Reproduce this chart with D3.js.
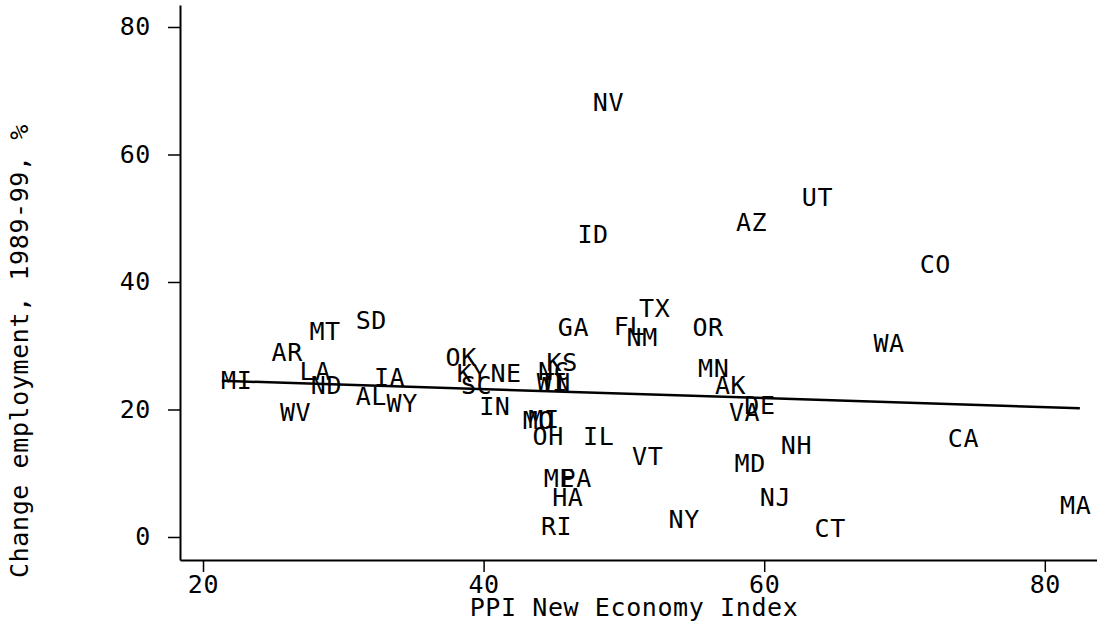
<!DOCTYPE html>
<html>
<head>
<meta charset="utf-8">
<script src="https://cdn.jsdelivr.net/npm/d3@7"></script>
<style>
    body { margin: 0; background: #fff; }
    text { font-family: "DejaVu Sans Mono", monospace; fill: #000; letter-spacing: 0.6px; }
</style>
</head>
<body>
<div id="plot"></div>
<script>
// state labels, x = PPI New Economy Index, y = change in employment 1989-99 (%)
const states = ["MI", "AR", "MT", "SD", "LA", "ND", "WV", "IA", "AL", "WY",
    "OK", "KY", "NE", "SC", "IN", "NC", "KS", "WI", "TN", "MO",
    "MI", "OH", "IL", "ME", "PA", "HA", "RI", "NV", "ID", "AZ",
    "UT", "GA", "FL", "NM", "TX", "OR", "MN", "AK", "VA", "DE",
    "VT", "MD", "NH", "NJ", "NY", "CT", "CO", "WA", "CA", "MA"];
const ppiIndex = [22.4, 26.0, 28.7, 32.0, 28.0, 28.8, 26.6, 33.3, 32.0, 34.2,
    38.4, 39.2, 41.6, 39.5, 40.8, 45.0, 45.6, 44.9, 45.1, 43.9,
    44.3, 44.6, 48.2, 45.4, 46.6, 46.0, 45.2, 48.9, 47.8, 59.1,
    63.8, 46.4, 50.4, 51.3, 52.2, 56.0, 56.4, 57.6, 58.6, 59.7,
    51.7, 59.0, 62.3, 60.8, 54.3, 64.7, 72.2, 68.9, 74.2, 82.2];
const employmentChange = [24.6, 28.9, 32.3, 33.9, 26.0, 23.7, 19.6, 25.0, 22.1, 20.9,
    28.2, 25.6, 25.6, 23.7, 20.5, 25.9, 27.4, 24.2, 24.2, 18.2,
    18.5, 15.7, 15.7, 9.1, 9.1, 6.2, 1.7, 68.2, 47.4, 49.3,
    53.3, 32.8, 33.0, 31.3, 35.8, 32.9, 26.4, 23.7, 19.5, 20.7,
    12.7, 11.5, 14.3, 6.2, 2.8, 1.4, 42.8, 30.4, 15.4, 4.9];

// fitted line end points
const fitX = [21.35, 82.5];
const fitY = [24.5, 20.2];

const xTicks = [20, 40, 60, 80];
const yTicks = [0, 20, 40, 60, 80];

class LabelScatterPlot {

    constructor() {
        this._options = {
            plotWidth: 1097,
            plotHeight: 627,
            plotMargin: { top: 5, bottom: 67, left: 180, right: 0 },
            fontSize: 25,
        };
    }

    plot(plotElementId) {
        this._plotElement = document.getElementById(plotElementId);
        return this;
    }

    initializePlot() {
        this._initializePlot();
        this._buildPlot();
        this._plotElement.append(this._svg.node());
        return this;
    }

    _w() {
        return this._options.plotWidth - this._options.plotMargin.left - this._options.plotMargin.right;
    }

    _h() {
        return this._options.plotHeight - this._options.plotMargin.top - this._options.plotMargin.bottom;
    }

    _initializePlot() {
        this._svg = d3.create("svg")
            .attr("width", this._options.plotWidth)
            .attr("height", this._options.plotHeight);

        this._content = this._svg.append("g")
            .attr("transform", "translate(" + this._options.plotMargin.left + "," + this._options.plotMargin.top + ")");
    }

    _buildPlot() {
        const fs = this._options.fontSize;

        this._xScale = d3.scaleLinear().domain([18.36, 83.72]).range([0, this._w()]);
        this._yScale = d3.scaleLinear().domain([-3.61, 83.45]).range([this._h(), 0]);

        // y axis
        const yAxis = this._content.append("g")
            .call(d3.axisLeft(this._yScale).tickValues(yTicks).tickSize(12).tickPadding(17).tickSizeOuter(0));
        yAxis.select(".domain").attr("stroke-width", 2);
        yAxis.selectAll(".tick line").attr("stroke-width", 1.5);
        yAxis.selectAll(".tick text")
            .attr("font-family", "DejaVu Sans Mono")
            .attr("font-size", fs);

        // x axis
        const xAxis = this._content.append("g")
            .attr("transform", "translate(0," + this._h() + ")")
            .call(d3.axisBottom(this._xScale).tickValues(xTicks).tickSize(12).tickPadding(3).tickSizeOuter(0));
        xAxis.select(".domain").attr("stroke-width", 2);
        xAxis.selectAll(".tick line").attr("stroke-width", 1.5);
        xAxis.selectAll(".tick text")
            .attr("font-family", "DejaVu Sans Mono")
            .attr("font-size", fs);

        // axis titles
        this._content.append("text")
            .attr("text-anchor", "middle")
            .attr("x", 634 - this._options.plotMargin.left)
            .attr("y", this._h() + 56)
            .attr("font-size", fs)
            .text("PPI New Economy Index");

        this._content.append("text")
            .attr("text-anchor", "middle")
            .attr("transform", "rotate(-90)")
            .attr("x", -(351 - this._options.plotMargin.top))
            .attr("y", -152)
            .attr("font-size", fs)
            .text("Change employment, 1989-99, %");

        // fitted line
        this._content.append("line")
            .attr("x1", this._xScale(fitX[0]))
            .attr("x2", this._xScale(fitX[1]))
            .attr("y1", this._yScale(fitY[0]))
            .attr("y2", this._yScale(fitY[1]))
            .attr("stroke", "black")
            .attr("stroke-width", 2.5);

        // state labels
        this._content.append("g")
            .selectAll("text")
            .data(states.map((s, i) => ({ s, x: ppiIndex[i], y: employmentChange[i] })))
            .join("text")
            .attr("x", d => this._xScale(d.x))
            .attr("y", d => this._yScale(d.y))
            .attr("text-anchor", "middle")
            .attr("dominant-baseline", "central")
            .attr("font-size", fs)
            .text(d => d.s);
    }
}

new LabelScatterPlot().plot("plot").initializePlot();
</script>
</body>
</html>
